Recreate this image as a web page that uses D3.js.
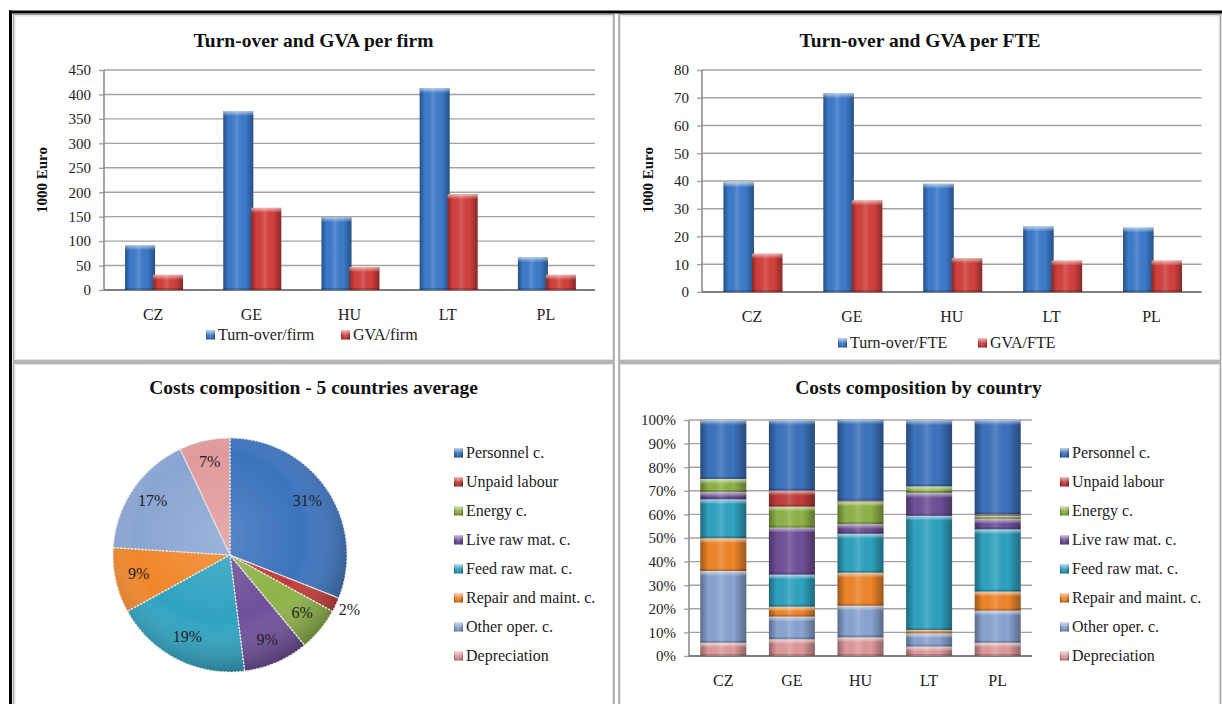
<!DOCTYPE html>
<html>
<head>
<meta charset="utf-8">
<script src="https://cdn.jsdelivr.net/npm/d3@7"></script>
<style>
  body { margin: 0; background: #fff; }
  svg { display: block; }
  svg text { font-family: 'Liberation Serif', 'DejaVu Serif', serif; }
</style>
</head>
<body>
<svg id="chart" width="1222" height="704"></svg>
<script>
// ---- data ----
const countries = ["CZ", "GE", "HU", "LT", "PL"];
const turnoverFirm = [92, 366, 149, 413, 67];
const gvaFirm = [31, 168, 47, 196, 31];
const turnoverFte = [39.5, 71.6, 39, 23.6, 23.2];
const gvaFte = [13.8, 33, 12.2, 11.3, 11.3];

const costItems = ["Personnel c.", "Unpaid labour", "Energy c.", "Live raw mat. c.",
                   "Feed raw mat. c.", "Repair and maint. c.", "Other oper. c.", "Depreciation"];
const costColors = ["#3b73bd", "#c23d3a", "#8fb348", "#70509a", "#2fa3c1", "#f0862a", "#8aa5d2", "#e09a9b"];
const costAvg = [31, 2, 6, 9, 19, 9, 17, 7];

// shares in %, same order as costItems
const costsCZ = [25.0, 0, 5.5, 3.1, 16.5, 13.9, 30.4, 5.6];
const costsGE = [29.9, 6.8, 8.9, 19.9, 13.6, 4.2, 9.6, 7.1];
const costsHU = [34.5, 0.3, 9.6, 4.1, 16.5, 14.0, 13.4, 7.9];
const costsLT = [28.0, 0, 2.8, 9.7, 48.4, 1.4, 5.6, 4.0];
const costsPL = [40.0, 0.5, 1.4, 4.4, 26.4, 8.1, 13.6, 5.6];
const costsByCountry = [costsCZ, costsGE, costsHU, costsLT, costsPL];

const firmTicks = d3.range(0, 451, 50);
const fteTicks = d3.range(0, 81, 10);
const pctTicks = d3.range(0, 101, 10);

const FONT = "Liberation Serif";
const svg = d3.select("#chart");
const defs = svg.append("defs");

// shading gradients for the bevelled look
function gradient(id, vertical, stops) {
    const g = defs.append("linearGradient").attr("id", id)
        .attr("x1", 0).attr("y1", 0).attr("x2", vertical ? 0 : 1).attr("y2", vertical ? 1 : 0);
    stops.forEach(s => g.append("stop").attr("offset", s[0]).attr("stop-color", s[1]).attr("stop-opacity", s[2]));
}
gradient("shadeH", false, [[0, "#000", 0.35], [0.18, "#000", 0], [0.45, "#fff", 0.15], [0.72, "#000", 0], [1, "#000", 0.35]]);
gradient("shadeTop", true, [[0, "#fff", 0.6], [1, "#fff", 0]]);
const pg = defs.append("radialGradient").attr("id", "pieShade").attr("cx", "45%").attr("cy", "42%").attr("r", "60%");
[[0, "#fff", 0.15], [0.6, "#fff", 0], [1, "#000", 0.3]].forEach(s =>
    pg.append("stop").attr("offset", s[0]).attr("stop-color", s[1]).attr("stop-opacity", s[2]));

function bevelRect(g, x, y, w, h, color) {
    if (h <= 0) return;
    g.append("rect").attr("x", x).attr("y", y).attr("width", w).attr("height", h).attr("fill", color);
    g.append("rect").attr("x", x).attr("y", y).attr("width", w).attr("height", h).attr("fill", "url(#shadeH)");
    g.append("rect").attr("x", x).attr("y", y).attr("width", w).attr("height", Math.min(5, h)).attr("fill", "url(#shadeTop)");
    g.append("rect").attr("x", x).attr("y", y + h - Math.min(2, h)).attr("width", w).attr("height", Math.min(2, h))
        .attr("fill", "#000").attr("opacity", 0.18);
}

// ---- frames ----
[[13.5, 14.5, 600.5, 346.5], [619, 14.5, 601.5, 346.5], [13.5, 363, 600.5, 360], [619, 363, 601.5, 360]]
    .forEach(p => {
        svg.append("rect").attr("x", p[0]).attr("y", p[1]).attr("width", p[2]).attr("height", p[3])
            .attr("fill", "#fff").attr("stroke", "#a3a3a3").attr("stroke-width", 1.6);
        svg.append("rect").attr("x", p[0] + 1.5).attr("y", p[1] + 1.5).attr("width", p[2] - 3).attr("height", p[3] - 3)
            .attr("fill", "none").attr("stroke", "#e2e2e2").attr("stroke-width", 1);
    });
svg.append("line").attr("x1", 9).attr("x2", 1222).attr("y1", 12).attr("y2", 12).attr("stroke", "#000").attr("stroke-width", 3);
svg.append("line").attr("x1", 10.5).attr("x2", 10.5).attr("y1", 10.5).attr("y2", 704).attr("stroke", "#000").attr("stroke-width", 3);

function title(x, y, text) {
    svg.append("text").attr("x", x).attr("y", y).attr("text-anchor", "middle")
        .attr("font-size", "19.5px").attr("font-weight", "bold").attr("fill", "#111").text(text);
}

function yGrid(g, y, ticks, x0, x1, fmt) {
    ticks.forEach(t => {
        g.append("line").attr("x1", x0).attr("x2", x1).attr("y1", y(t)).attr("y2", y(t))
            .attr("stroke", "#a2a2a2").attr("stroke-width", 1.4);
    });
    const ax = g.append("g").attr("transform", `translate(${x0},0)`)
        .call(d3.axisLeft(y).tickValues(ticks).tickSize(5).tickPadding(8).tickFormat(fmt));
    ax.attr("font-family", FONT);
    ax.select(".domain").remove();
    ax.selectAll("line").attr("stroke", "#a2a2a2").attr("stroke-width", 1.4);
    ax.selectAll("text").attr("font-size", "15px").attr("fill", "#222");
    g.append("line").attr("x1", x0).attr("x2", x0).attr("y1", y.range()[1]).attr("y2", y.range()[0])
        .attr("stroke", "#8f8f8f").attr("stroke-width", 1.6);
    g.append("line").attr("x1", x0).attr("x2", x1).attr("y1", y.range()[0]).attr("y2", y.range()[0])
        .attr("stroke", "#7f7f7f").attr("stroke-width", 2);
}

function xLabels(g, x, yBase) {
    const ax = g.append("g").attr("transform", `translate(0,${yBase})`)
        .call(d3.axisBottom(x).tickSize(0).tickPadding(19));
    ax.attr("font-family", FONT);
    ax.select(".domain").remove();
    ax.selectAll("text").attr("font-size", "16px").attr("fill", "#222");
}

function legendItem(g, x, yc, color, text) {
    bevelRect(g, x, yc - 4.5, 9, 9, color);
    g.append("text").attr("x", x + 12).attr("y", yc + 5).attr("font-size", "16px").attr("fill", "#222").text(text);
}

// ---- clustered bar charts ----
function barChart(cfg) {
    const g = svg.append("g");
    const x = d3.scaleBand().domain(countries).range([cfg.x0, cfg.x1]);
    const y = d3.scaleLinear().domain([0, cfg.max]).range([cfg.yBase, cfg.yTop]);
    yGrid(g, y, cfg.ticks, cfg.x0, cfg.x1, d3.format("d"));
    const b = x.bandwidth();
    const bw = b * 0.305;
    countries.forEach((c, i) => {
        const cx = x(c) + b / 2;
        bevelRect(g, cx - b * 0.285, y(cfg.a[i]), bw, cfg.yBase - y(cfg.a[i]), "#3d7bcc");
        bevelRect(g, cx, y(cfg.b[i]), bw, cfg.yBase - y(cfg.b[i]), "#d4403d");
    });
    xLabels(g, x, cfg.yBase);
    g.append("text").attr("transform", `translate(${cfg.yLabelX},180) rotate(-90)`)
        .attr("text-anchor", "middle").attr("dominant-baseline", "middle")
        .attr("font-size", "15px").attr("font-weight", "bold").attr("fill", "#111").text("1000 Euro");
    legendItem(g, cfg.legA[0], cfg.legA[1], "#3d7bcc", cfg.names[0]);
    legendItem(g, cfg.legB[0], cfg.legB[1], "#d4403d", cfg.names[1]);
}

title(313.5, 47, "Turn-over and GVA per firm");
barChart({ x0: 104, x1: 595, yBase: 290, yTop: 70, max: 450, ticks: firmTicks,
    a: turnoverFirm, b: gvaFirm, yLabelX: 43.5, names: ["Turn-over/firm", "GVA/firm"],
    legA: [206, 335], legB: [341, 335] });

title(920, 47, "Turn-over and GVA per FTE");
barChart({ x0: 702, x1: 1201.5, yBase: 292, yTop: 70, max: 80, ticks: fteTicks,
    a: turnoverFte, b: gvaFte, yLabelX: 650, names: ["Turn-over/FTE", "GVA/FTE"],
    legA: [838, 343], legB: [978, 343] });

// ---- pie ----
title(313.5, 394, "Costs composition - 5 countries average");
const pieG = svg.append("g").attr("transform", "translate(230,555)");
const R = 117;
const arcs = d3.pie().sort(null).value(d => d)(costAvg);
const arc = d3.arc().innerRadius(0).outerRadius(R);
pieG.selectAll("path.slice").data(arcs).enter().append("path").attr("class", "slice")
    .attr("d", arc).attr("fill", (d, i) => costColors[i]);
pieG.append("circle").attr("r", R).attr("fill", "url(#pieShade)");
pieG.selectAll("path.edge").data(arcs).enter().append("path").attr("class", "edge")
    .attr("d", arc).attr("fill", "none").attr("stroke", "#e6e6e6").attr("stroke-width", 1.2)
    .attr("stroke-dasharray", "2,1.5");
pieG.selectAll("text").data(arcs).enter().append("text")
    .attr("transform", d => {
        const r = d.data < 3 ? R + 15 : R * 0.8;
        const a = (d.startAngle + d.endAngle) / 2;
        return `translate(${Math.sin(a) * r},${-Math.cos(a) * r})`;
    })
    .attr("text-anchor", "middle").attr("dominant-baseline", "middle")
    .attr("font-size", "16px").attr("fill", "#222").text(d => d.data + "%");
costItems.forEach((name, i) => legendItem(svg, 454, 453 + i * 29, costColors[i], name));

// ---- 100% stacked bars ----
title(918.5, 394, "Costs composition by country");
const sg = svg.append("g");
const sx = d3.scaleBand().domain(countries).range([689, 1032]).paddingInner(0.33).paddingOuter(0.165);
const sy = d3.scaleLinear().domain([0, 100]).range([656, 420]);
yGrid(sg, sy, pctTicks, 689, 1032, d => d + "%");
countries.forEach((c, ci) => {
    let acc = 0;
    // bottom of the stack is the last cost item
    for (let k = costItems.length - 1; k >= 0; k--) {
        const v = costsByCountry[ci][k];
        const top = sy(acc + v), bottom = sy(acc);
        bevelRect(sg, sx(c), top, sx.bandwidth(), bottom - top, costColors[k]);
        acc += v;
    }
});
xLabels(sg, sx, 656);
costItems.forEach((name, i) => legendItem(svg, 1060, 453 + i * 29, costColors[i], name));

svg.selectAll("text").attr("font-family", FONT);
</script>
</body>
</html>
